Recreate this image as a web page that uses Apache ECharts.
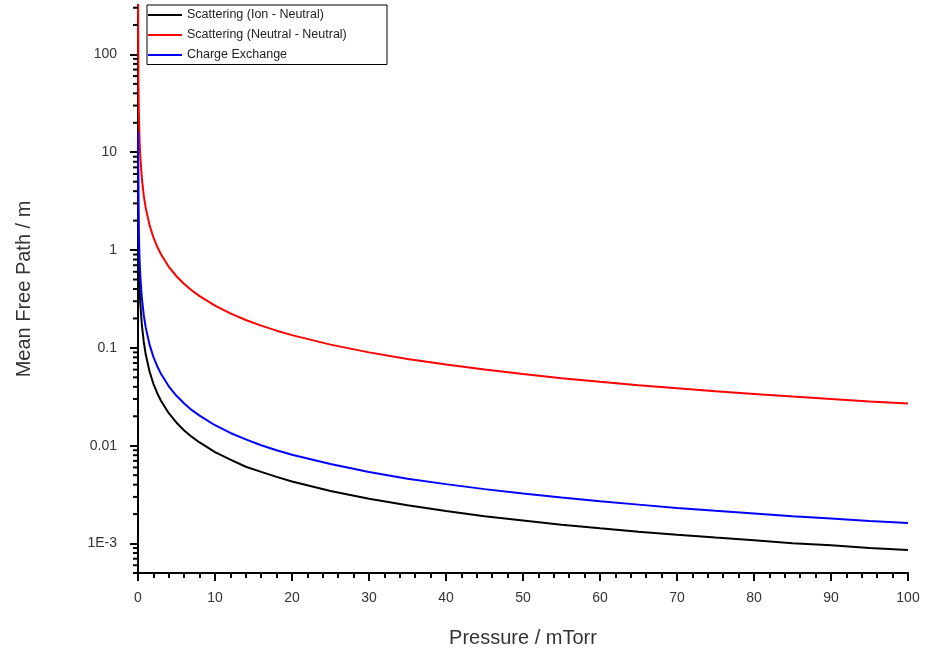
<!DOCTYPE html>
<html>
<head>
<meta charset="utf-8">
<script src="https://cdn.jsdelivr.net/npm/echarts@6/dist/echarts.min.js"></script>
<style>html,body{margin:0;padding:0;background:#fff}#c{width:925px;height:654px}</style>
</head>
<body>
<div id="c"></div>
<script>
// Pressure (mTorr)
const pressures = [0.01, 0.05, 0.1, 0.2, 0.3, 0.5, 0.75, 1, 1.5, 2, 2.5, 3, 4, 5, 6, 7, 8, 10, 12, 14, 16, 18, 20, 25, 30, 35, 40, 45, 50, 55, 60, 65, 70, 75, 80, 85, 90, 95, 100];
// Mean free path (m)
const ionNeutral = [8.6, 1.72, 0.86, 0.43, 0.287, 0.172, 0.115, 0.086, 0.0573, 0.043, 0.0344, 0.0287, 0.0215, 0.0172, 0.0143, 0.0123, 0.0108, 0.0086, 0.0072, 0.0061, 0.0054, 0.0048, 0.0043, 0.00344, 0.00287, 0.00246, 0.00215, 0.0019, 0.00172, 0.00156, 0.00143, 0.00132, 0.00123, 0.00115, 0.00108, 0.00101, 0.00096, 0.0009, 0.00086];
const neutralNeutral = [400, 54, 27, 13.5, 9, 5.4, 3.6, 2.7, 1.8, 1.35, 1.08, 0.9, 0.675, 0.54, 0.45, 0.386, 0.338, 0.27, 0.225, 0.193, 0.169, 0.15, 0.135, 0.108, 0.09, 0.077, 0.0675, 0.06, 0.054, 0.049, 0.045, 0.0415, 0.0386, 0.036, 0.0338, 0.0318, 0.03, 0.0284, 0.027];
const chargeExchange = [16.2, 3.24, 1.62, 0.81, 0.54, 0.324, 0.216, 0.162, 0.108, 0.081, 0.065, 0.054, 0.0405, 0.0324, 0.027, 0.0231, 0.0203, 0.0162, 0.0135, 0.0116, 0.0101, 0.009, 0.0081, 0.0065, 0.0054, 0.0046, 0.00405, 0.0036, 0.00324, 0.00295, 0.0027, 0.0025, 0.00231, 0.00216, 0.00203, 0.0019, 0.0018, 0.0017, 0.00162];
const seriesNames = ['Scattering (Ion - Neutral)', 'Scattering (Neutral - Neutral)', 'Charge Exchange'];
const yTickValues = [0.001, 0.01, 0.1, 1, 10, 100];
const yTickLabels = ['1E-3', '0.01', '0.1', '1', '10', '100'];
const yMin = 5e-4, yMax = 320;

const minorY = [];
for (let k = -4; k <= 2; k++) {
  for (let m = 2; m <= 9; m++) {
    const v = m * Math.pow(10, k);
    if (v >= yMin && v <= yMax) minorY.push([0, v]);
  }
}
const pair = arr => pressures.map((p, i) => [p, arr[i]]);
const font = '"Liberation Sans", Arial, sans-serif';

const chart = echarts.init(document.getElementById('c'));
chart.setOption({
  animation: false,
  backgroundColor: '#fff',
  grid: { left: 138, right: 17, top: 5, bottom: 81, containLabel: false },
  legend: {
    data: seriesNames,
    orient: 'vertical',
    left: 147, top: 5,
    padding: [3.5, 1, 3, 1],
    itemWidth: 34, itemHeight: 2, itemGap: 7,
    icon: 'rect',
    backgroundColor: '#fff',
    borderColor: '#000', borderWidth: 1,
    textStyle: { fontFamily: font, fontSize: 12.5, color: '#222', lineHeight: 13, width: 199, overflow: 'none' }
  },
  xAxis: {
    type: 'value', min: 0, max: 100, interval: 10,
    name: 'Pressure / mTorr', nameLocation: 'middle', nameGap: 55,
    nameTextStyle: { fontFamily: font, fontSize: 20, color: '#333' },
    axisLine: { onZero: false, lineStyle: { color: '#000', width: 2 } },
    axisTick: { inside: false, length: 8, lineStyle: { color: '#000', width: 2 } },
    minorTick: { show: true, splitNumber: 5, length: 5, lineStyle: { color: '#000', width: 2 } },
    axisLabel: { margin: 18, fontFamily: font, fontSize: 14, color: '#333' },
    splitLine: { show: false }
  },
  yAxis: {
    type: 'log', min: yMin, max: yMax, logBase: 10,
    name: 'Mean Free Path / m', nameLocation: 'middle', nameGap: 104,
    nameTextStyle: { fontFamily: font, fontSize: 20, color: '#333' },
    axisLine: { lineStyle: { color: '#000', width: 2 } },
    axisTick: { inside: false, length: 8, lineStyle: { color: '#000', width: 2 } },
    axisLabel: {
      margin: 21, fontFamily: font, fontSize: 14, color: '#333',
      showMinLabel: false, showMaxLabel: false,
      formatter: function (v) {
        for (let i = 0; i < yTickValues.length; i++) {
          if (Math.abs(Math.log10(v) - Math.log10(yTickValues[i])) < 1e-6) return yTickLabels[i];
        }
        return '';
      }
    },
    splitLine: { show: false }
  },
  series: [
    { name: seriesNames[0], type: 'line', data: pair(ionNeutral), showSymbol: false, smooth: false,
      lineStyle: { color: '#000', width: 2 }, itemStyle: { color: '#000' } },
    { name: seriesNames[1], type: 'line', data: pair(neutralNeutral), showSymbol: false,
      lineStyle: { color: '#ff0000', width: 2 }, itemStyle: { color: '#ff0000' } },
    { name: seriesNames[2], type: 'line', data: pair(chargeExchange), showSymbol: false,
      lineStyle: { color: '#0000ff', width: 2 }, itemStyle: { color: '#0000ff' } },
    { type: 'custom', silent: true, data: minorY, encode: { x: 0, y: 1 }, z: 5,
      renderItem: function (params, api) {
        const pt = api.coord([0, api.value(1)]);
        return { type: 'line', shape: { x1: pt[0] - 5, y1: pt[1], x2: pt[0], y2: pt[1] },
                 style: { stroke: '#000', lineWidth: 2 } };
      } }
  ]
});
</script>
</body>
</html>
